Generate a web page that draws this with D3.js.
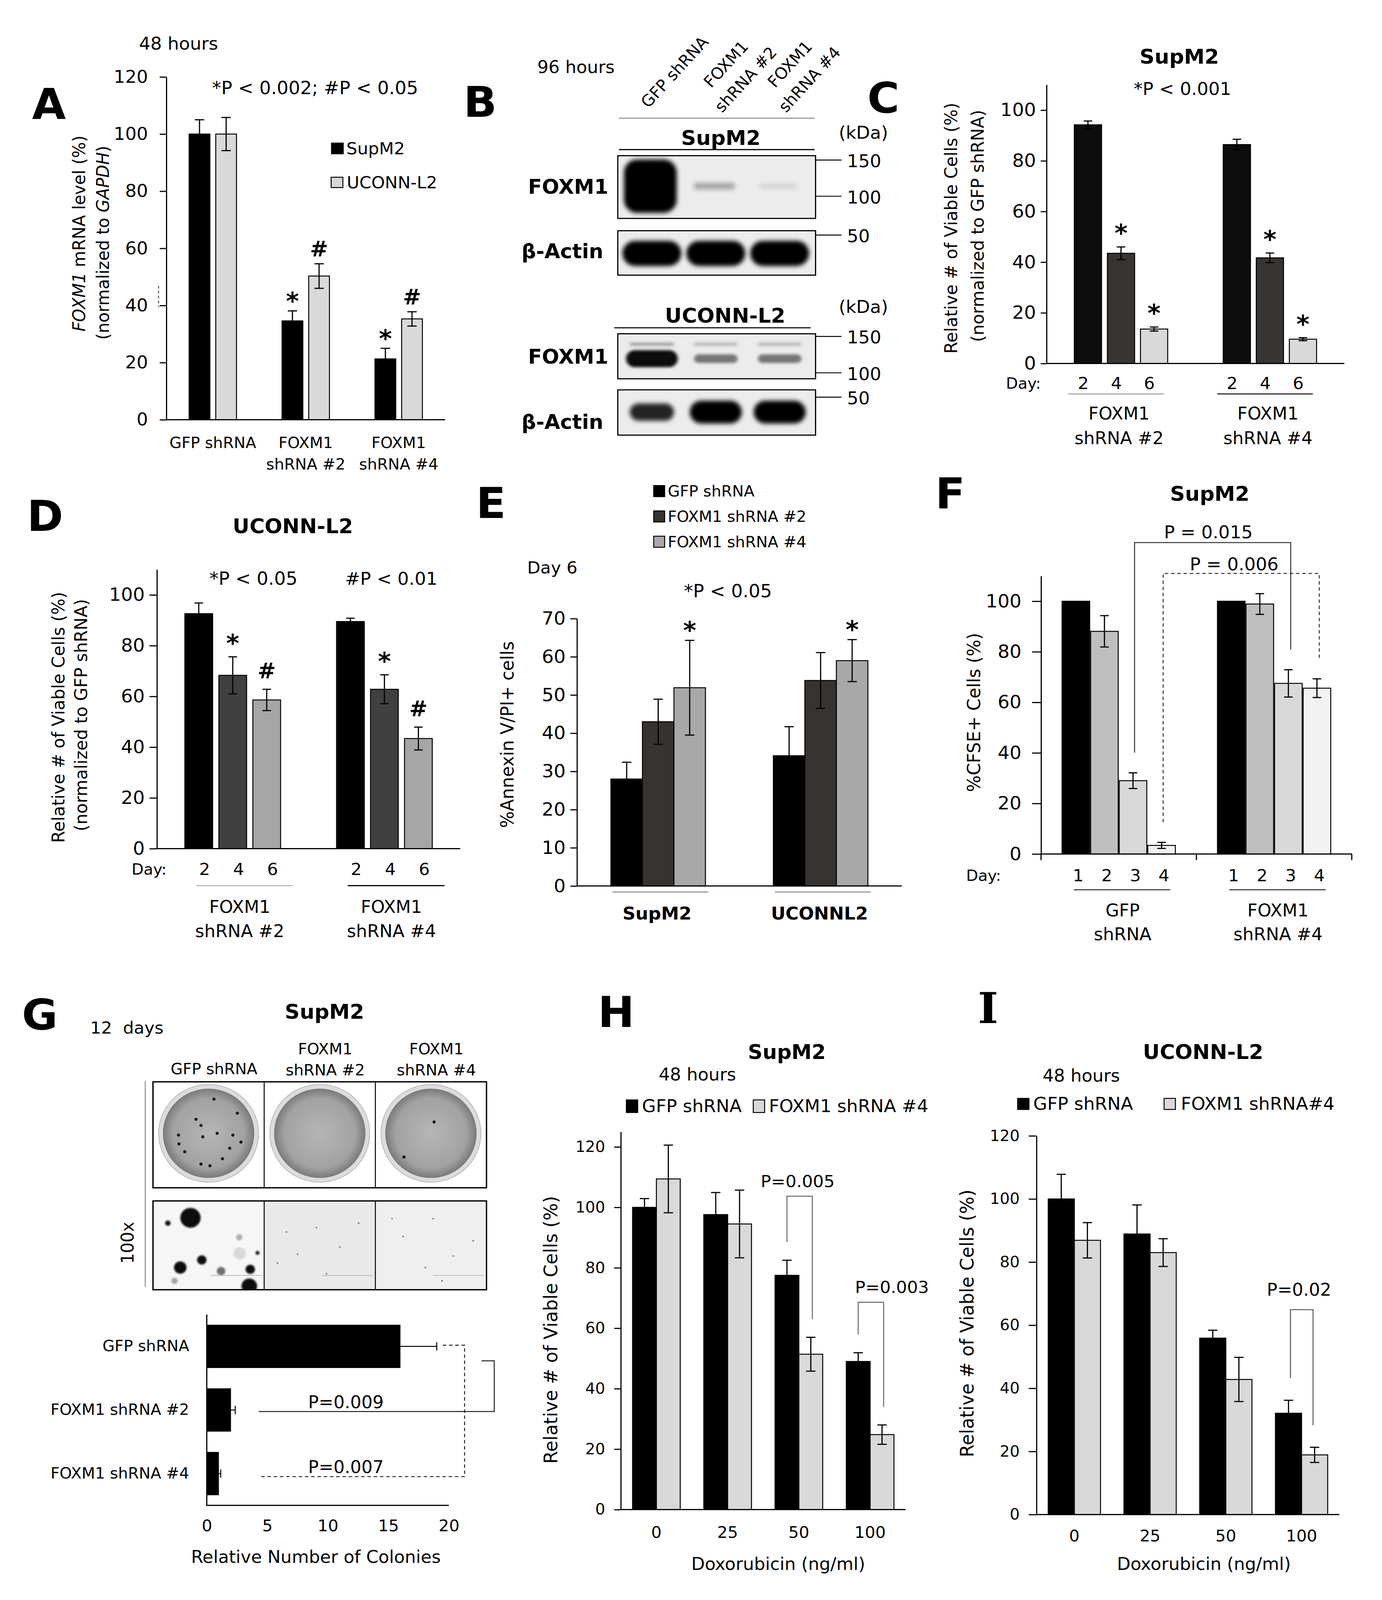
<!DOCTYPE html>
<html>
<head>
<meta charset="utf-8">
<script src="https://cdn.jsdelivr.net/npm/d3@7"></script>
<style>
  html, body { margin: 0; padding: 0; background: #fff; overflow: hidden; }
  svg { display: block; width: 100vw; height: 100vh; }
</style>
</head>
<body>
<div id="chart"></div>
<script>
// ---------- data ----------
// A: FOXM1 mRNA level, 48 h
const aGroups = ['GFP shRNA', 'FOXM1 shRNA #2', 'FOXM1 shRNA #4'];
const aSeries = ['SupM2', 'UCONN-L2'];
const aValues = [[100, 100], [34.6, 50.3], [21.3, 35.3]];
const aErrors = [[5.0, 5.8], [3.5, 4.3], [3.7, 2.5]];
const aMarks = [['', ''], ['*', '#'], ['*', '#']];
const aTicks = [0, 20, 40, 60, 80, 100, 120];

// B: western blot, relative band intensity per lane
const bLanes = ['GFP shRNA', 'FOXM1 shRNA #2', 'FOXM1 shRNA #4'];
const bSupFoxm1 = [1.0, 0.3, 0.1];
const bSupActin = [1.0, 1.0, 1.0];
const bUcoFoxm1 = [0.95, 0.5, 0.5];
const bUcoFoxm1Upper = [0.3, 0.22, 0.22];
const bUcoActin = [0.85, 1.0, 1.0];

// C: SupM2 viable cells
const cGroups = ['FOXM1 shRNA #2', 'FOXM1 shRNA #4'];
const cDays = ['2', '4', '6'];
const cValues = [[94.2, 43.5, 13.6], [86.4, 41.7, 9.6]];
const cErrors = [[1.5, 2.5, 0.8], [2.1, 1.9, 0.6]];
const cMarks = [['', '*', '*'], ['', '*', '*']];
const cTicks = [0, 20, 40, 60, 80, 100];

// D: UCONN-L2 viable cells
const dGroups = ['FOXM1 shRNA #2', 'FOXM1 shRNA #4'];
const dDays = ['2', '4', '6'];
const dValues = [[92.6, 68.3, 58.6], [89.5, 62.8, 43.4]];
const dErrors = [[4.2, 7.3, 4.2], [1.3, 5.7, 4.5]];
const dMarks = [['', '*', '#'], ['', '*', '#']];

// E: Annexin V/PI, day 6
const eGroups = ['SupM2', 'UCONNL2'];
const eSeries = ['GFP shRNA', 'FOXM1 shRNA #2', 'FOXM1 shRNA #4'];
const eValues = [[28.0, 43.0, 51.9], [34.1, 53.8, 59.0]];
const eErrors = [[4.4, 5.9, 12.4], [7.6, 7.3, 5.5]];
const eMarks = [['', '', '*'], ['', '', '*']];
const eTicks = [0, 10, 20, 30, 40, 50, 60, 70];

// F: CFSE+ cells
const fGroups = ['GFP shRNA', 'FOXM1 shRNA #4'];
const fDays = ['1', '2', '3', '4'];
const fValues = [[100, 88.1, 29.0, 3.4], [100, 98.9, 67.5, 65.6]];
const fErrors = [[0, 6.2, 3.1, 1.2], [0, 4.1, 5.4, 3.7]];
const fTests = [
  { a: [0, 2], b: [1, 2], p: 'P = 0.015', level: 123.2, dashed: false },
  { a: [0, 3], b: [1, 3], p: 'P = 0.006', level: 111, dashed: true },
];

// G: colonies, 12 days
const gGroups = ['GFP shRNA', 'FOXM1 shRNA #2', 'FOXM1 shRNA #4'];
const gValues = [16.0, 2.0, 1.0];
const gErrors = [3.0, 0.35, 0.15];
const gTicks = [0, 5, 10, 15, 20];
// colonies in the dishes, unit-circle coordinates per dish
const gDishColonies = [
  [[0.12, -0.78], [0.64, -0.46], [-0.28, -0.32], [-0.17, -0.18], [-0.67, 0.04], [0.19, 0.0],
   [-0.13, 0.08], [0.54, 0.04], [-0.66, 0.24], [0.47, 0.34], [0.72, 0.2], [-0.53, 0.42],
   [-0.17, 0.7], [0.03, 0.74], [0.31, 0.58]],
  [],
  [[0.07, -0.26], [-0.6, 0.54]],
];
// colonies in the 100x field of GFP shRNA: [fx, fy, radius, darkness]
const gField = [
  [0.337, 0.19, 26, 1], [0.134, 0.25, 7, 1], [0.245, 0.75, 16, 1], [0.439, 0.665, 12, 1],
  [0.612, 0.79, 11, 0.55], [0.875, 0.77, 12, 1], [0.866, 0.96, 20, 1], [0.94, 0.585, 5, 1],
  [0.776, 0.41, 8, 0.3], [0.194, 0.9, 8, 0.35], [0.78, 0.59, 16, 0.12],
];
const gSpecks = [
  [[0.2, 0.35], [0.47, 0.3], [0.68, 0.52], [0.56, 0.82], [0.3, 0.6], [0.85, 0.25], [0.12, 0.7]],
  [[0.25, 0.4], [0.52, 0.2], [0.7, 0.62], [0.45, 0.75], [0.88, 0.45], [0.15, 0.2], [0.6, 0.9]],
];

// H, I: doxorubicin
const doses = ['0', '25', '50', '100'];
const hSeries = ['GFP shRNA', 'FOXM1 shRNA #4'];
const hValues = [[100.0, 109.4], [97.6, 94.5], [77.5, 51.4], [49.0, 24.8]];
const hErrors = [[2.9, 11.2], [7.3, 11.2], [5.0, 5.6], [2.9, 3.2]];
const hTests = [{ dose: '50', p: 'P=0.005', level: 103.7 }, { dose: '100', p: 'P=0.003', level: 68.6 }];
const hTicks = [0, 20, 40, 60, 80, 100, 120];

const iSeries = ['GFP shRNA', 'FOXM1 shRNA#4'];
const iValues = [[100, 86.9], [88.9, 83.0], [55.9, 42.8], [32.1, 18.9]];
const iErrors = [[7.8, 5.6], [9.2, 4.4], [2.5, 7.0], [4.1, 2.4]];
const iTests = [{ dose: '100', p: 'P=0.02', level: 64.9 }];
const iTicks = [0, 20, 40, 60, 80, 100, 120];

// ---------- setup ----------
const W = 3539, H = 4193;
const FONT = "'DejaVu Sans', Verdana, sans-serif";
const STAR = 64, HASH = 56;

// fill the whole viewport, even when it is a little shorter than the page
const svg = d3.select('#chart').append('svg')
  .attr('viewBox', `0 0 ${W} ${H}`)
  .attr('preserveAspectRatio', 'none')
  .attr('font-family', FONT);
svg.append('rect').attr('width', W).attr('height', H).attr('fill', '#fff');

const defs = svg.append('defs');
[['blur6', 6], ['blur4', 4], ['blur2', 2]].forEach(([id, s]) => {
  defs.append('filter').attr('id', id)
    .attr('x', '-50%').attr('y', '-300%').attr('width', '200%').attr('height', '700%')
    .append('feGaussianBlur').attr('stdDeviation', s);
});
const dish = defs.append('radialGradient').attr('id', 'dish');
dish.append('stop').attr('offset', '0%').attr('stop-color', '#b6b6b6');
dish.append('stop').attr('offset', '78%').attr('stop-color', '#a2a2a2');
dish.append('stop').attr('offset', '100%').attr('stop-color', '#7a7a7a');

const splitFirst = s => [s.slice(0, s.indexOf(' ')), s.slice(s.indexOf(' ') + 1)];

function text(g, x, y, s, o = {}) {
  return g.append('text')
    .attr('x', x).attr('y', y)
    .attr('font-size', o.size || 44)
    .attr('font-weight', o.bold ? 'bold' : null)
    .attr('font-style', o.italic ? 'italic' : null)
    .attr('font-family', o.family || null)
    .attr('text-anchor', o.anchor || 'start')
    .attr('dominant-baseline', o.middle ? 'central' : null)
    .attr('fill', o.fill || '#000')
    .text(s);
}

function vtext(g, cx, cy, parts, size) {
  const t = g.append('text')
    .attr('transform', `translate(${cx},${cy}) rotate(-90)`)
    .attr('text-anchor', 'middle').attr('dominant-baseline', 'central')
    .attr('font-size', size);
  parts.forEach(([s, it]) => t.append('tspan').attr('font-style', it ? 'italic' : null).text(s));
  return t;
}

function swatch(g, x, yc, w, h, fill, label, size, gap) {
  g.append('rect').attr('x', x).attr('y', yc - h / 2).attr('width', w).attr('height', h)
    .attr('fill', fill).attr('stroke', '#000').attr('stroke-width', 2.5);
  text(g, x + w + gap, yc, label, { size, middle: true });
}

// grouped vertical bar chart with error bars
function barPanel(c) {
  const g = svg.append('g');
  const y = d3.scaleLinear().domain([0, c.yMax]).range([c.y0, c.y0 - c.yMax * c.ppu]);
  const x = d3.scaleBand().domain(c.groups).range([c.x0, c.x1])
    .paddingInner(c.pi).paddingOuter(c.pi / 2);
  const xs = d3.scaleBand().domain(d3.range(c.colors.length))
    .range([0, x.bandwidth()]).paddingInner(c.ps || 0);
  const cx = (gi, si) => x(c.groups[gi]) + xs(si) + xs.bandwidth() / 2;

  const recs = [];
  c.values.forEach((row, gi) => row.forEach((v, si) => recs.push({
    gi, si, v, e: c.errors[gi][si], m: c.marks ? c.marks[gi][si] : '',
    x: x(c.groups[gi]) + xs(si), cx: cx(gi, si),
  })));

  g.selectAll('rect.bar').data(recs).join('rect')
    .attr('class', 'bar')
    .attr('x', d => d.x).attr('width', xs.bandwidth())
    .attr('y', d => y(d.v)).attr('height', d => y(0) - y(d.v))
    .attr('fill', d => c.colors[d.si])
    .attr('stroke', '#000').attr('stroke-width', 2.5);

  const eb = g.selectAll('g.err').data(recs.filter(d => d.e > 0)).join('g')
    .attr('class', 'err').attr('stroke', '#000').attr('stroke-width', 3);
  eb.append('line')
    .attr('x1', d => d.cx).attr('x2', d => d.cx)
    .attr('y1', d => y(d.v - d.e)).attr('y2', d => y(d.v + d.e));
  [-1, 1].forEach(s => eb.append('line')
    .attr('x1', d => d.cx - c.cap / 2).attr('x2', d => d.cx + c.cap / 2)
    .attr('y1', d => y(d.v + s * d.e)).attr('y2', d => y(d.v + s * d.e)));

  g.selectAll('text.mark').data(recs.filter(d => d.m)).join('text')
    .attr('class', 'mark')
    .attr('x', d => d.cx)
    .attr('y', d => y(d.v + d.e) - c.markGap + (d.m === '*' ? 0.56 * STAR : 0.365 * HASH))
    .attr('text-anchor', 'middle').attr('font-weight', 'bold')
    .attr('font-size', d => (d.m === '*' ? STAR : HASH))
    .text(d => d.m);

  g.append('g').attr('transform', `translate(${c.x0},0)`)
    .call(d3.axisLeft(y).tickValues(c.ticks).tickSize(c.tickSize)
      .tickPadding(c.tickPad).tickSizeOuter(0))
    .attr('font-family', FONT).attr('font-size', c.tickFont)
    .call(a => a.selectAll('path,line').attr('stroke', '#000').attr('stroke-width', 3))
    .call(a => a.selectAll('text').attr('fill', '#000'));

  g.append('line').attr('x1', c.x0).attr('x2', c.x1)
    .attr('y1', y(0)).attr('y2', y(0))
    .attr('stroke', '#000').attr('stroke-width', 3);

  return { g, x, xs, y, recs, cx, groups: c.groups };
}

function dayLabels(p, labels, yc, dx, size) {
  p.g.selectAll(null).data(p.recs).join('text')
    .attr('x', d => d.cx + dx).attr('y', yc)
    .attr('text-anchor', 'middle').attr('dominant-baseline', 'central')
    .attr('font-size', size).text(d => labels[d.si]);
}

function underLines(p, yy, a, b, colors) {
  p.groups.forEach((grp, gi) => {
    const c = p.x(grp) + p.x.bandwidth() / 2;
    p.g.append('line').attr('x1', c + a).attr('x2', c + b).attr('y1', yy).attr('y2', yy)
      .attr('stroke', colors[gi]).attr('stroke-width', 3);
  });
}

function groupNames(p, ys, dx, size, splitter, bold) {
  p.groups.forEach(grp => {
    const c = p.x(grp) + p.x.bandwidth() / 2 + dx;
    splitter(grp).forEach((line, i) => text(p.g, c, ys[i], line,
      { size, anchor: 'middle', middle: true, bold }));
  });
}

function bracket(g, pts, o) {
  g.append('path').attr('d', d3.line()(pts))
    .attr('fill', 'none').attr('stroke', o.color || '#333').attr('stroke-width', 2.5)
    .attr('stroke-dasharray', o.dashed ? '9,7' : null);
}

// ---------- A ----------
const pa = barPanel({
  groups: aGroups, values: aValues, errors: aErrors, marks: aMarks,
  colors: ['#000', '#d9d9d9'], x0: 426, x1: 1140, y0: 1100, ppu: 7.487, yMax: 120,
  pi: 0.49, ps: 0.22, ticks: aTicks, tickSize: 17, tickPad: 30, tickFont: 46,
  cap: 24, markGap: 40,
});
text(pa.g, 82, 311, 'A', { size: 112, bold: true });
text(pa.g, 356, 130, '48 hours', { size: 46 });
text(pa.g, 543, 247, '*P < 0.002; #P < 0.05', { size: 47 });
vtext(pa.g, 203, 612, [['FOXM1', true], [' mRNA level (%)', false]], 44);
vtext(pa.g, 264, 636, [['(normalized to ', false], ['GAPDH', true], [')', false]], 44);
pa.g.append('line').attr('x1', 406).attr('x2', 406).attr('y1', 749).attr('y2', 805)
  .attr('stroke', '#555').attr('stroke-width', 2.5).attr('stroke-dasharray', '7,6');
swatch(pa.g, 849, 389, 30, 28, '#000', aSeries[0], 44, 8);
swatch(pa.g, 848, 478, 30, 27, '#d9d9d9', aSeries[1], 44, 10);
groupNames(pa, [1160, 1216], 0, 40, s => (s.startsWith('FOXM1') ? splitFirst(s) : [s]));

// ---------- B ----------
const gb = svg.append('g');
text(gb, 1187, 306, 'B', { size: 112, bold: true });
text(gb, 1376, 191, '96 hours', { size: 45 });
const lane = d3.scaleBand().domain(bLanes).range([1590, 2076]).paddingInner(0.03);
const laneC = l => lane(l) + lane.bandwidth() / 2;
bLanes.forEach(l => {
  const c = laneC(l);
  const lines = l.startsWith('FOXM1') ? splitFirst(l) : [l];
  const pos = lines.length === 1 ? [[c - 9, 285]] : [[c - 12, 232], [c + 16, 297]];
  lines.forEach((s, i) => gb.append('text')
    .attr('transform', `translate(${pos[i][0]},${pos[i][1]}) rotate(-48)`)
    .attr('font-size', 42).text(s));
});
gb.append('line').attr('x1', 1585).attr('x2', 2086).attr('y1', 310).attr('y2', 310)
  .attr('stroke', '#999').attr('stroke-width', 3);
text(gb, 1846, 380, 'SupM2', { size: 53, bold: true, anchor: 'middle' });
gb.append('line').attr('x1', 1585).attr('x2', 2086).attr('y1', 392).attr('y2', 392)
  .attr('stroke', '#000').attr('stroke-width', 3);
text(gb, 1857, 846, 'UCONN-L2', { size: 53, bold: true, anchor: 'middle' });
gb.append('line').attr('x1', 1573).attr('x2', 2076).attr('y1', 859).attr('y2', 859)
  .attr('stroke', '#000').attr('stroke-width', 3);

let clipN = 0;
function blot(y0, y1, layers, label, markers) {
  const id = `clip${clipN++}`;
  gb.append('clipPath').attr('id', id).append('rect')
    .attr('x', 1582).attr('y', y0).attr('width', 506.5).attr('height', y1 - y0);
  gb.append('rect').attr('x', 1582).attr('y', y0).attr('width', 506.5).attr('height', y1 - y0)
    .attr('fill', '#ececec');
  const inner = gb.append('g').attr('clip-path', `url(#${id})`);
  layers.forEach(L => {
    inner.selectAll(null).data(L.vals).join('rect')
      .attr('x', (d, i) => laneC(bLanes[i]) - L.w(d) / 2 + (L.dx || 0))
      .attr('width', d => L.w(d))
      .attr('y', d => L.cy - L.h(d) / 2)
      .attr('height', d => L.h(d))
      .attr('rx', d => Math.min(L.h(d) / 2, 34))
      .attr('fill', '#000').attr('fill-opacity', d => Math.min(1, d))
      .attr('filter', `url(#${L.blur})`);
  });
  gb.append('rect').attr('x', 1582).attr('y', y0).attr('width', 506.5).attr('height', y1 - y0)
    .attr('fill', 'none').attr('stroke', '#000').attr('stroke-width', 3);
  text(gb, label.x, label.y, label.s, { size: 52, bold: true, anchor: 'end', middle: true });
  markers.forEach(([kda, yy]) => {
    gb.append('line').attr('x1', 2090).attr('x2', 2155).attr('y1', yy).attr('y2', yy)
      .attr('stroke', '#000').attr('stroke-width', 2.5);
    text(gb, 2169, yy + 3, kda, { size: 46, middle: true });
  });
}
const bw = lane.bandwidth();
text(gb, 2148, 348, '(kDa)', { size: 46, middle: true });
blot(408, 572.4, [
  { vals: bSupFoxm1, cy: 488, h: d => 14 + 126 * d ** 3, w: d => bw * (0.6 + 0.25 * d), dx: -4, blur: 'blur6' },
], { x: 1558, y: 490, s: 'FOXM1' }, [['150', 419.4], ['100', 514.3]]);
blot(604.6, 721, [
  { vals: bSupActin, cy: 664, h: () => 66, w: d => bw * 0.95 * d, blur: 'blur6' },
], { x: 1545, y: 658, s: '\u03b2-Actin' }, [['50', 616]]);
text(gb, 2148, 804, '(kDa)', { size: 46, middle: true });
blot(874.7, 992.6, [
  { vals: bUcoFoxm1Upper, cy: 902, h: () => 9, w: () => bw * 0.72, blur: 'blur4' },
  { vals: bUcoFoxm1, cy: 940, h: d => 14 + 34 * d * d, w: d => bw * (0.55 + 0.3 * d), blur: 'blur4' },
], { x: 1558, y: 935, s: 'FOXM1' }, [['150', 881.6], ['100', 977]]);
blot(1021.7, 1140.3, [
  { vals: bUcoActin, cy: 1080, h: d => 60 * d ** 1.7, w: d => bw * 0.84 * d, blur: 'blur6' },
], { x: 1545, y: 1106, s: '\u03b2-Actin' }, [['50', 1040.8]]);

// ---------- C ----------
const pc = barPanel({
  groups: cGroups, values: cValues, errors: cErrors, marks: cMarks,
  colors: ['#0d0d0d', '#383431', '#d9d9d9'], x0: 2680, x1: 3442.6, y0: 952.6, ppu: 6.64, yMax: 110,
  pi: 0.373, ps: 0.176, ticks: cTicks, tickSize: 15, tickPad: 12, tickFont: 48,
  cap: 22, markGap: 50,
});
text(pc.g, 2221, 295, 'C', { size: 112, bold: true });
text(pc.g, 3020, 167, 'SupM2', { size: 53, bold: true, anchor: 'middle' });
text(pc.g, 3028, 249, '*P < 0.001', { size: 46, anchor: 'middle' });
vtext(pc.g, 2435, 598, [['Relative # of Viable Cells (%)']], 45);
vtext(pc.g, 2503, 592, [['(normalized to GFP shRNA)']], 45);
text(pc.g, 2576, 1004.5, 'Day:', { size: 40, middle: true });
dayLabels(pc, cDays, 1004.5, -12, 44);
underLines(pc, 1032.4, -135, 110, ['#aaa', '#333']);
groupNames(pc, [1084, 1148], -5, 45, splitFirst);

// ---------- D ----------
const pd = barPanel({
  groups: dGroups, values: dValues, errors: dErrors, marks: dMarks,
  colors: ['#000', '#404040', '#a6a6a6'], x0: 401.8, x1: 1178.6, y0: 2224, ppu: 6.65, yMax: 110,
  pi: 0.369, ps: 0.184, ticks: cTicks, tickSize: 19, tickPad: 12, tickFont: 48,
  cap: 22, markGap: 50,
});
text(pd.g, 69, 1391, 'D', { size: 112, bold: true });
text(pd.g, 750, 1397, 'UCONN-L2', { size: 53, bold: true, anchor: 'middle' });
text(pd.g, 649, 1532, '*P < 0.05', { size: 47, anchor: 'middle' });
text(pd.g, 1002, 1532, '#P < 0.01', { size: 46, anchor: 'middle' });
vtext(pd.g, 149, 1880, [['Relative # of Viable Cells (%)']], 45);
vtext(pd.g, 207, 1874, [['(normalized to GFP shRNA)']], 45);
text(pd.g, 337, 2278, 'Day:', { size: 40, middle: true });
dayLabels(pd, dDays, 2278, 15, 44);
underLines(pd, 2321, -94, 154, ['#bbb', '#000']);
groupNames(pd, [2377, 2440], 18, 45, splitFirst);

// ---------- E ----------
const pe = barPanel({
  groups: eGroups, values: eValues, errors: eErrors, marks: eMarks,
  colors: ['#000', '#363330', '#a8a8a8'], x0: 1477.5, x1: 2309.4, y0: 2321.8, ppu: 10.01, yMax: 70,
  pi: 0.418, ps: 0, ticks: eTicks, tickSize: 17, tickPad: 12, tickFont: 48,
  cap: 24, markGap: 40,
});
text(pe.g, 1219, 1357, 'E', { size: 112, bold: true });
eSeries.forEach((s, i) => swatch(pe.g, 1674, [1287, 1353.4, 1419.7][i], 28, 29,
  ['#000', '#363330', '#a8a8a8'][i], s, 40, 8));
text(pe.g, 1350, 1503, 'Day 6', { size: 44 });
text(pe.g, 1864, 1565, '*P < 0.05', { size: 47, anchor: 'middle' });
vtext(pe.g, 1299, 1925, [['%Annexin V/PI+ cells']], 46);
underLines(pe, 2337.5, -117, 128, ['#999', '#999']);
groupNames(pe, [2394], -3, 46, s => [s], true);

// ---------- F ----------
const pf = barPanel({
  groups: fGroups, values: fValues, errors: fErrors,
  colors: ['#000', '#bfbfbf', '#d9d9d9', '#f2f2f2'], x0: 2665.9, x1: 3461.6, y0: 2238, ppu: 6.624, yMax: 110,
  pi: 0.271, ps: 0.035, ticks: cTicks, tickSize: 23, tickPad: 27, tickFont: 48,
  cap: 22, markGap: 40,
});
text(pf.g, 2395, 1333, 'F', { size: 112, bold: true });
text(pf.g, 3098, 1312, 'SupM2', { size: 53, bold: true, anchor: 'middle' });
vtext(pf.g, 2494, 1867, [['%CFSE+ Cells (%)']], 46);
d3.range(fGroups.length + 1).forEach(i => {
  const xx = 2665.9 + i * pf.x.step();
  pf.g.append('line').attr('x1', xx).attr('x2', xx).attr('y1', pf.y(0)).attr('y2', pf.y(0) + 16)
    .attr('stroke', '#000').attr('stroke-width', 3);
});
fTests.forEach(t => {
  const top = ([gi, si]) => fValues[gi][si] + fErrors[gi][si] + 8;
  const xa = pf.cx(...t.a) + 4, xb = pf.cx(...t.b) + 6;
  const yt = pf.y(t.level);
  bracket(pf.g, [[xa, pf.y(top(t.a))], [xa, yt], [xb, yt], [xb, pf.y(top(t.b))]],
    { dashed: t.dashed, color: '#333' });
  text(pf.g, (xa + xb) / 2 - (t.dashed ? 18 : 11), yt - (t.dashed ? 8 : 11), t.p,
    { size: 46, anchor: 'middle' });
});
text(pf.g, 2474, 2294, 'Day:', { size: 40, middle: true });
dayLabels(pf, fDays, 2294, 6, 44);
underLines(pf, 2331.7, -115, 132, ['#444', '#444']);
groupNames(pf, [2386, 2448], 10, 45, splitFirst);

// ---------- G ----------
const gg = svg.append('g');
text(gg, 56, 2697, 'G', { size: 112, bold: true });
text(gg, 231, 2709, '12\u00a0\u00a0days', { size: 44 });
text(gg, 831, 2670, 'SupM2', { size: 53, bold: true, anchor: 'middle' });
const col = d3.scaleBand().domain(gGroups).range([391.8, 1245.9]);
const colC = s => col(s) + col.bandwidth() / 2;
gGroups.forEach(s => {
  const lines = s.startsWith('FOXM1') ? splitFirst(s) : [s];
  const ys = lines.length === 1 ? [2801] : [2749, 2804];
  lines.forEach((l, i) => text(gg, colC(s) + 14, ys[i], l, { size: 40, anchor: 'middle', middle: true }));
});
gg.append('line').attr('x1', 372).attr('x2', 372).attr('y1', 2833).attr('y2', 3372)
  .attr('stroke', '#888').attr('stroke-width', 2.5);
gg.append('text').attr('transform', 'translate(327,3257) rotate(-90)')
  .attr('text-anchor', 'middle').attr('dominant-baseline', 'central')
  .attr('font-size', 44).text('100x');

// row 1: dishes
const row1 = [2835, 3112.7], row2 = [3147.2, 3379.9];
gg.append('rect').attr('x', 391.8).attr('y', row1[0]).attr('width', 854).attr('height', row1[1] - row1[0])
  .attr('fill', '#fff');
gGroups.forEach((s, i) => {
  const cx0 = colC(s), cy0 = 2970, r = 121;
  gg.append('circle').attr('cx', cx0).attr('cy', cy0).attr('r', r + 7)
    .attr('fill', '#dcdcdc').attr('stroke', '#b8b8b8').attr('stroke-width', 2);
  gg.append('circle').attr('cx', cx0).attr('cy', cy0).attr('r', r - 4).attr('fill', 'url(#dish)');
  const u = d3.scaleLinear().domain([-1, 1]).range([-r + 6, r - 6]);
  gg.selectAll(null).data(gDishColonies[i]).join('circle')
    .attr('cx', d => cx0 + u(d[0])).attr('cy', d => cy0 + u(d[1]))
    .attr('r', 4).attr('fill', '#1a1a1a');
});
gg.append('rect').attr('x', 391.8).attr('y', row1[0]).attr('width', 854).attr('height', row1[1] - row1[0])
  .attr('fill', 'none').attr('stroke', '#000').attr('stroke-width', 3.5);

// row 2: 100x fields
gGroups.forEach((s, i) => {
  const x0 = col(s), w = col.bandwidth(), h = row2[1] - row2[0];
  const id = `fld${i}`;
  gg.append('clipPath').attr('id', id).append('rect')
    .attr('x', x0).attr('y', row2[0]).attr('width', w).attr('height', h);
  const f = gg.append('g').attr('clip-path', `url(#${id})`);
  f.append('rect').attr('x', x0).attr('y', row2[0]).attr('width', w).attr('height', h)
    .attr('fill', ['#f6f6f6', '#e9e9e9', '#efefef'][i]);
  const fx = d3.scaleLinear().range([x0, x0 + w]);
  const fy = d3.scaleLinear().range([row2[0], row2[1]]);
  if (i === 0) {
    f.selectAll(null).data(gField).join('circle')
      .attr('cx', d => fx(d[0])).attr('cy', d => fy(d[1])).attr('r', d => d[2])
      .attr('fill', '#0a0a0a').attr('fill-opacity', d => d[3]).attr('filter', 'url(#blur2)');
  } else {
    f.selectAll(null).data(gSpecks[i - 1]).join('circle')
      .attr('cx', d => fx(d[0])).attr('cy', d => fy(d[1])).attr('r', 2.2).attr('fill', '#777');
  }
  f.append('line').attr('x1', fx(0.52)).attr('x2', fx(0.98)).attr('y1', fy(0.84)).attr('y2', fy(0.84))
    .attr('stroke', '#bbb').attr('stroke-width', 2);
});
gg.append('rect').attr('x', 391.8).attr('y', row2[0]).attr('width', 854).attr('height', row2[1] - row2[0])
  .attr('fill', 'none').attr('stroke', '#000').attr('stroke-width', 3.5);
[1, 2].forEach(k => {
  const xx = col(gGroups[k]);
  [row1, row2].forEach(r => gg.append('line').attr('x1', xx).attr('x2', xx)
    .attr('y1', r[0]).attr('y2', r[1]).attr('stroke', '#000').attr('stroke-width', 2.5));
});

// horizontal bars
const gx = d3.scaleLinear().domain([0, 20]).range([529.5, 1149.4]);
const gy = d3.scaleBand().domain(gGroups).range([3445, 3945]).paddingInner(0.32).paddingOuter(0.16);
const gyc = s => gy(s) + gy.bandwidth() / 2;
gg.selectAll('rect.hbar').data(gGroups).join('rect')
  .attr('class', 'hbar')
  .attr('x', gx(0)).attr('y', d => gy(d))
  .attr('width', (d, i) => gx(gValues[i]) - gx(0)).attr('height', gy.bandwidth())
  .attr('fill', '#000');
const gEb = gg.selectAll('g.herr').data(gGroups).join('g').attr('stroke', '#000').attr('stroke-width', 2.5);
gEb.append('line').attr('x1', (d, i) => gx(gValues[i] - gErrors[i])).attr('x2', (d, i) => gx(gValues[i] + gErrors[i]))
  .attr('y1', d => gyc(d)).attr('y2', d => gyc(d));
gEb.append('line').attr('x1', (d, i) => gx(gValues[i] + gErrors[i])).attr('x2', (d, i) => gx(gValues[i] + gErrors[i]))
  .attr('y1', d => gyc(d) - 11).attr('y2', d => gyc(d) + 11);
gg.append('g').attr('transform', `translate(${gx(0)},0)`)
  .call(d3.axisLeft(gy).tickSize(0).tickPadding(45).tickSizeOuter(0))
  .attr('font-family', FONT).attr('font-size', 40)
  .call(a => a.select('.domain').remove())
  .call(a => a.selectAll('text').attr('fill', '#000'));
gg.append('g').attr('transform', `translate(0,${gy.range()[1]})`)
  .call(d3.axisBottom(gx).tickValues(gTicks).tickSize(0).tickPadding(38).tickSizeOuter(0))
  .attr('font-family', FONT).attr('font-size', 42)
  .call(a => a.select('.domain').remove())
  .call(a => a.selectAll('text').attr('fill', '#000'));
gg.append('path').attr('d', `M${gx(0)},${gy.range()[0]}V${gy.range()[1]}H${gx(20)}`)
  .attr('fill', 'none').attr('stroke', '#000').attr('stroke-width', 3);
text(gg, 809, 4080, 'Relative Number of Colonies', { size: 45, anchor: 'middle', middle: true });
// significance brackets
const yG = gyc(gGroups[0]), y2 = gyc(gGroups[1]), y4 = gyc(gGroups[2]);
bracket(gg, [[gx(4.3), y2 + 4], [gx(23.75), y2 + 4], [gx(23.75), yG + 38], [gx(22.7), yG + 38]], { color: '#222' });
bracket(gg, [[gx(19.5), yG - 3], [gx(21.3), yG - 3], [gx(21.3), y4 + 8], [gx(4.3), y4 + 8]], { color: '#222', dashed: true });
text(gg, gx(11.5), y2 - 5, 'P=0.009', { size: 45, anchor: 'middle' });
text(gg, gx(11.5), y4 - 1, 'P=0.007', { size: 45, anchor: 'middle' });

// ---------- H ----------
const ph = barPanel({
  groups: doses, values: hValues, errors: hErrors,
  colors: ['#000', '#d9d9d9'], x0: 1589.7, x1: 2319.4, y0: 3956, ppu: 7.92, yMax: 125,
  pi: 0.331, ps: 0, ticks: hTicks, tickSize: 17, tickPad: 23, tickFont: 40,
  cap: 24, markGap: 40,
});
text(ph.g, 1531, 2691, 'H', { size: 112, bold: true });
text(ph.g, 2015, 2775, 'SupM2', { size: 52, bold: true, anchor: 'middle' });
text(ph.g, 1687, 2831, '48 hours', { size: 45 });
swatch(ph.g, 1604, 2899, 29, 33, '#000', hSeries[0], 46, 11);
swatch(ph.g, 1929, 2899, 29, 33, '#d9d9d9', hSeries[1], 46, 11);
vtext(ph.g, 1410, 3485, [['Relative # of Viable Cells (%)']], 48);
groupNames(ph, [4016], 0, 42, s => [s]);
text(ph.g, 1993, 4099, 'Doxorubicin (ng/ml)', { size: 45, anchor: 'middle', middle: true });
const hShift = { 50: -5, 100: 54 };
hTests.forEach(t => {
  const gi = doses.indexOf(t.dose);
  const xa = ph.cx(gi, 0), xb = ph.cx(gi, 1) + 4, yt = ph.y(t.level);
  bracket(ph.g, [[xa, ph.y(hValues[gi][0] + hErrors[gi][0] + 6)], [xa, yt], [xb, yt],
    [xb, ph.y(hValues[gi][1] + hErrors[gi][1] + 6)]], { color: '#666' });
  text(ph.g, (xa + xb) / 2 + hShift[t.dose], yt - 24, t.p, { size: 44, anchor: 'middle' });
});

// ---------- I ----------
const pi = barPanel({
  groups: doses, values: iValues, errors: iErrors,
  colors: ['#000', '#d9d9d9'], x0: 2654.2, x1: 3430, y0: 3969, ppu: 8.27, yMax: 120,
  pi: 0.31, ps: 0, ticks: iTicks, tickSize: 20, tickPad: 23, tickFont: 40,
  cap: 24, markGap: 40,
});
text(pi.g, 2504, 2681, 'I', { size: 112, bold: true, family: "'DejaVu Serif', serif" });
text(pi.g, 3081, 2775, 'UCONN-L2', { size: 53, bold: true, anchor: 'middle' });
text(pi.g, 2670, 2835, '48 hours', { size: 45 });
swatch(pi.g, 2606, 2893, 29, 29, '#000', iSeries[0], 46, 11);
swatch(pi.g, 2981, 2893, 29, 29, '#d9d9d9', iSeries[1], 46, 14);
vtext(pi.g, 2476, 3468, [['Relative # of Viable Cells (%)']], 48);
groupNames(pi, [4025], 0, 42, s => [s]);
text(pi.g, 3083, 4099, 'Doxorubicin (ng/ml)', { size: 45, anchor: 'middle', middle: true });
iTests.forEach(t => {
  const gi = doses.indexOf(t.dose);
  const xa = pi.cx(gi, 0) + 5, xb = pi.cx(gi, 1) - 4, yt = pi.y(t.level);
  bracket(pi.g, [[xa, pi.y(iValues[gi][0] + iErrors[gi][0] + 7)], [xa, yt], [xb, yt],
    [xb, pi.y(iValues[gi][1] + iErrors[gi][1] + 7)]], { color: '#555' });
  text(pi.g, (xa + xb) / 2 - 7, yt - 37, t.p, { size: 45, anchor: 'middle' });
});
</script>
</body>
</html>
